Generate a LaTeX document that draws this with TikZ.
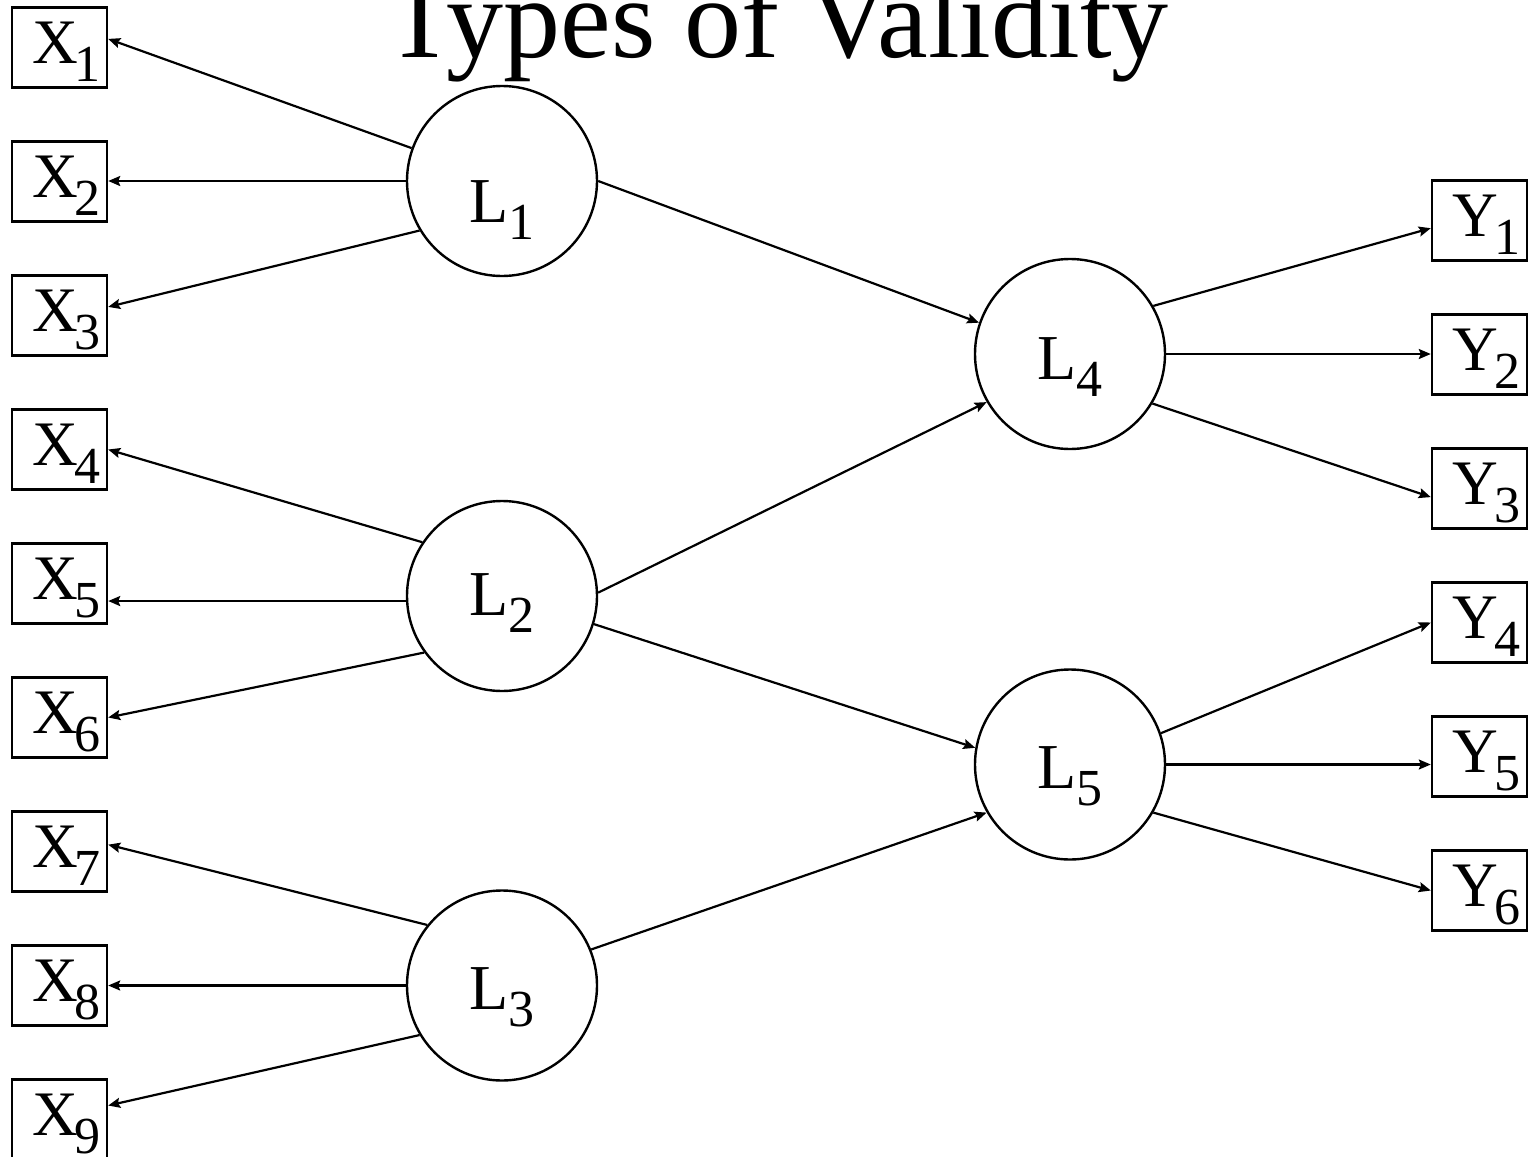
\documentclass[tikz,border=0pt]{standalone}
\usepackage{fontspec}
\setmainfont{Liberation Serif}
\usetikzlibrary{arrows.meta,calc}
\newcommand{\blab}[2]{\kern6.9pt{\fontsize{31.7pt}{33pt}\selectfont #1}\kern-1.5pt\raisebox{-9pt}{\fontsize{26pt}{27pt}\selectfont #2}}
\newcommand{\clab}[2]{{\fontsize{32pt}{33pt}\selectfont #1}\raisebox{-8.5pt}{\fontsize{26pt}{27pt}\selectfont #2}}
\tikzset{
  obs/.style={draw, rectangle, line width=1.2pt, minimum width=47.5pt, minimum height=40pt,
    inner sep=0pt, text height=20pt, text depth=4.5pt},
  lat/.style={draw, circle, line width=1.2pt, minimum size=95pt, inner sep=0pt},
  arr/.style={-{Stealth[length=6pt,width=5pt,inset=1pt]}, line width=1.1pt},
}
\begin{document}
\begin{tikzpicture}[x=0.5pt, y=-0.5pt]
\useasboundingbox (0,0) rectangle (1528,1157);
\node[anchor=base, font=\fontsize{57pt}{62pt}\selectfont] (title) at (777,57) {Types of Validity};
% observed X
\foreach \i in {1,...,9} {
  \node[obs] (X\i) at (59.5,{47.5+134*(\i-1)}) {\blab{X}{\i}};
}
\foreach \j in {1,...,6} {
  \node[obs] (Y\j) at (1479.5,{220.5+134*(\j-1)}) {\blab{Y}{\j}};
}
% latent
\node[lat, text height=44pt, text depth=3pt] (L1) at (502,181) {\clab{L}{1}};
\node[lat, text height=23pt, text depth=4pt] (L2) at (502,596) {\clab{L}{2}};
\node[lat, text height=27.5pt, text depth=4pt] (L3) at (502,985.5) {\clab{L}{3}};
\node[lat, text height=29pt, text depth=4pt] (L4) at (1070,354) {\clab{L}{4}};
\node[lat, text height=27.5pt, text depth=4pt] (L5) at (1070,764.5) {\clab{L}{5}};
% L1 -> X
\draw[arr] (L1.160) -- (X1.10);
\draw[arr] (L1.180) -- (L1.180 -| X2.east);
\draw[arr] (L1.211) -- (X3.10);
% L2 -> X
\draw[arr] (L2.146) -- (X4.east);
\draw[arr] (L2.183) -- (L2.183 -| X5.east);
\draw[arr] (L2.216) -- (X6.east);
% L3 -> X
\draw[arr] (L3.141) -- (X7.8);
\draw[arr] (L3.180) -- (L3.180 -| X8.east);
\draw[arr] (L3.211) -- (X9.16);
% structural
\draw[arr] (L1.east) -- (L4.161);
\draw[arr] (L2.2) -- (L4.210);
\draw[arr] (L2.-17) -- (L5.170);
\draw[arr] (L3.22) -- (L5.210);
% L4 -> Y
\draw[arr] (L4.30) -- (Y1.189);
\draw[arr] (L4.east) -- (L4.east -| Y2.west);
\draw[arr] (L4.-31) -- (Y3.190);
% L5 -> Y
\draw[arr] (L5.19) -- (Y4.west);
\draw[arr] (L5.east) -- (L5.east -| Y5.west);
\draw[arr] (L5.-30) -- (Y6.west);
\end{tikzpicture}
\end{document}
